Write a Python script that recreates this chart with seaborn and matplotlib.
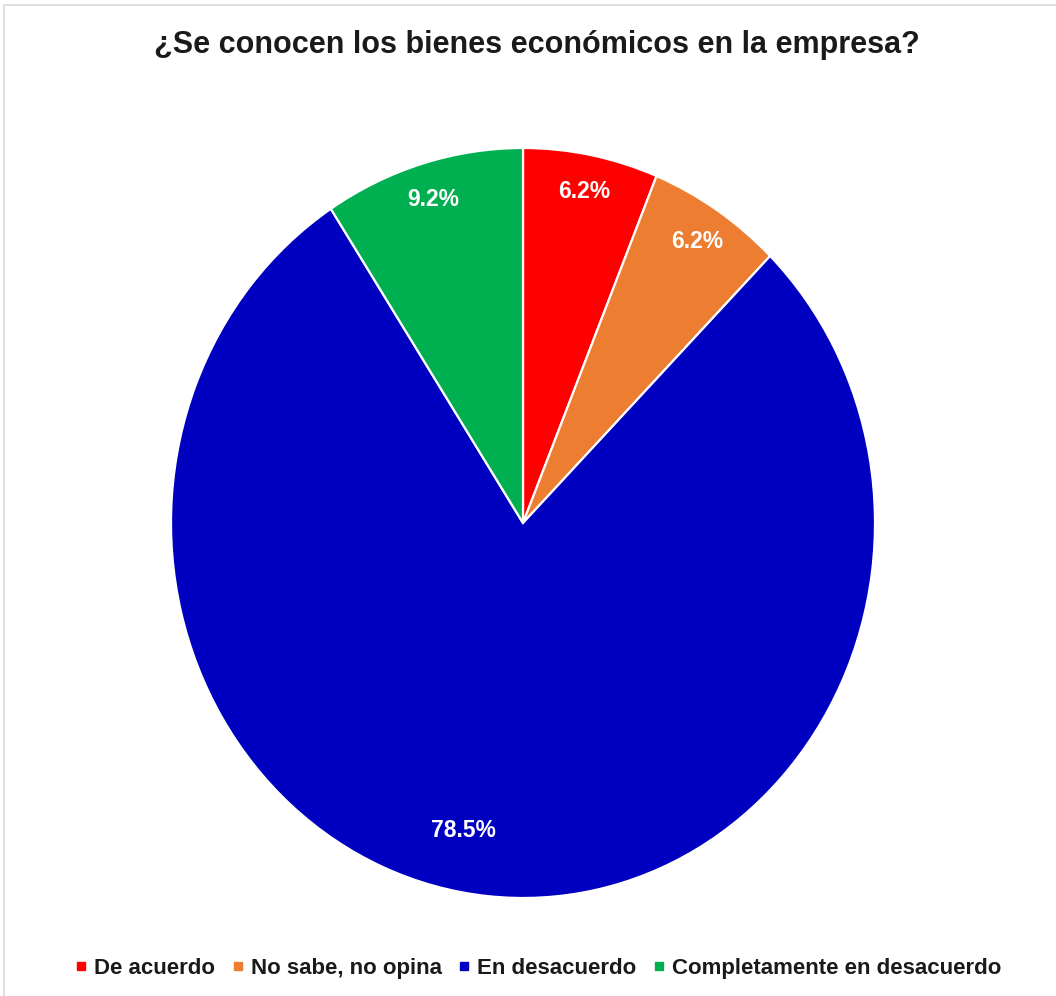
import matplotlib
matplotlib.use("Agg")
import matplotlib.pyplot as plt
import matplotlib.patches as mpatches
from matplotlib.lines import Line2D
import numpy as np
import seaborn as sns

# Survey answers and their shares (%)
categories = ["De acuerdo", "No sabe, no opina", "En desacuerdo", "Completamente en desacuerdo"]
shares = [6.2, 6.2, 78.5, 9.2]
colors = ["#FF0000", "#ED7D31", "#0000C0", "#00B050"]
title = "¿Se conocen los bienes económicos en la empresa?"

sns.set_theme(style="white")
plt.rcParams["font.family"] = ["Liberation Sans", "DejaVu Sans"]
palette = sns.color_palette(colors)

fig = plt.figure(figsize=(10.56, 9.96), dpi=100)
ax = fig.add_axes([171 / 1056, 98 / 996, 704 / 1056, 750 / 996])

wedges, texts, autotexts = ax.pie(
    shares,
    colors=palette,
    startangle=90,
    counterclock=False,
    autopct="%.1f%%",
    pctdistance=0.9,
    wedgeprops=dict(edgecolor="white", linewidth=1.6),
    textprops=dict(color="white", fontsize=16.5, fontweight="bold"),
)
ax.set_aspect("auto")
ax.set_xlim(-1, 1)
ax.set_ylim(-1, 1)

# Show the shares as reported, not renormalised
for t, v in zip(autotexts, shares):
    t.set_text(f"{v:.1f}%")

# Large slice label sits a little closer to the centre, rotated off the bisector
w = wedges[2]
mid = np.deg2rad((w.theta1 + w.theta2) / 2 - 6)
autotexts[2].set_position((0.837 * np.cos(mid), 0.837 * np.sin(mid)))

fig.text(537 / 1056, 1 - 45 / 996, title, ha="center", va="center",
         fontsize=22, fontweight="bold", color="#1a1a1a")

handles = [Line2D([0], [0], marker="s", linestyle="", markersize=5.8,
                  markerfacecolor=c, markeredgecolor=c) for c in palette]
fig.legend(handles, categories, loc="center", ncol=4,
           bbox_to_anchor=(538 / 1056, 1 - 968 / 996), frameon=False,
           handlelength=0.6, handletextpad=0.3, columnspacing=0.7,
           prop=dict(size=16.0, weight="bold"), labelcolor="#1a1a1a")

# Thin frame around the chart area
fig.add_artist(mpatches.Rectangle((4 / 1056, -0.1), 1.2, (991 / 996) + 0.1,
                                  transform=fig.transFigure, fill=False,
                                  edgecolor="#d9d9d9", linewidth=1.2))

fig.savefig("out.png", dpi=100, facecolor="white")
